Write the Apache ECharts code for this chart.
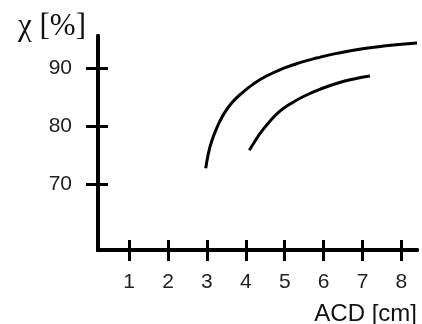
<!DOCTYPE html>
<html>
<head>
<meta charset="utf-8">
<style>
  html, body { margin: 0; padding: 0; background: #fff; }
  #chart { width: 422px; height: 324px; }
</style>
<script src="https://cdn.jsdelivr.net/npm/echarts@6/dist/echarts.min.js"></script>
</head>
<body>
<div id="chart"></div>
<script>
// ACD [cm] tick values
var xTicks = [1, 2, 3, 4, 5, 6, 7, 8];
var yTicks = [70, 80, 90];

// upper curve
var upperX = [2.97, 3.03, 3.12, 3.25, 3.42, 3.63, 3.89, 4.19, 4.53, 4.96, 5.39, 5.82, 6.33, 7.0, 7.6, 8.4];
var upperY = [72.8, 75.1, 77.4, 79.7, 82.0, 84.0, 85.7, 87.3, 88.7, 90.0, 91.0, 91.8, 92.6, 93.4, 93.9, 94.4];

// lower curve
var lowerX = [4.09, 4.23, 4.40, 4.62, 4.87, 5.17, 5.52, 5.90, 6.37, 6.78, 7.19];
var lowerY = [75.9, 77.4, 79.1, 80.9, 82.6, 84.0, 85.3, 86.4, 87.5, 88.2, 88.7];

function pairs(xs, ys) {
    var out = [];
    for (var i = 0; i < xs.length; i++) {
        out.push([xs[i], ys[i]]);
    }
    return out;
}

var labelFont = {
    fontFamily: 'Liberation Sans',
    fontSize: 21,
    color: '#222'
};

var axisLine = {show: true, onZero: false, lineStyle: {color: '#000', width: 4}};

var chart = echarts.init(document.getElementById('chart'));

var option = {
    animation: false,
    backgroundColor: '#fff',
    grid: {left: 98, top: 36, right: 5, bottom: 74},
    title: [{
        text: 'χ [%]',
        left: 13,
        top: 6,
        textStyle: {fontFamily: 'Liberation Serif', fontSize: 31, fontWeight: 'normal', color: '#111'}
    }, {
        text: 'ACD [cm]',
        right: 0,
        top: 297,
        textStyle: {fontFamily: 'Liberation Sans', fontSize: 24, fontWeight: 'normal', color: '#111'}
    }],
    xAxis: [{
        type: 'value',
        min: 0.2,
        max: 8.4,
        position: 'bottom',
        axisLine: axisLine,
        axisTick: {show: true, customValues: xTicks, length: 11, lineStyle: {color: '#000', width: 3}},
        axisLabel: Object.assign({customValues: xTicks, margin: 22}, labelFont),
        splitLine: {show: false}
    }, {
        type: 'value',
        min: 0.2,
        max: 8.4,
        position: 'bottom',
        offset: 0,
        axisLine: axisLine,
        axisTick: {show: true, inside: true, customValues: xTicks, length: 10, lineStyle: {color: '#000', width: 3}},
        axisLabel: {show: false},
        splitLine: {show: false}
    }],
    yAxis: [{
        type: 'value',
        min: 58.7,
        max: 95.6,
        position: 'left',
        axisLine: axisLine,
        axisTick: {show: true, customValues: yTicks, length: 12, lineStyle: {color: '#000', width: 3}},
        axisLabel: Object.assign({customValues: yTicks, margin: 26}, labelFont),
        splitLine: {show: false}
    }, {
        type: 'value',
        min: 58.7,
        max: 95.6,
        position: 'left',
        offset: 0,
        axisLine: axisLine,
        axisTick: {show: true, inside: true, customValues: yTicks, length: 10, lineStyle: {color: '#000', width: 3}},
        axisLabel: {show: false},
        splitLine: {show: false}
    }],
    series: [{
        type: 'line',
        smooth: true,
        symbol: 'none',
        data: pairs(upperX, upperY),
        lineStyle: {color: '#000', width: 3}
    }, {
        type: 'line',
        smooth: true,
        symbol: 'none',
        data: pairs(lowerX, lowerY),
        lineStyle: {color: '#000', width: 3}
    }]
};

chart.setOption(option);
</script>
</body>
</html>
